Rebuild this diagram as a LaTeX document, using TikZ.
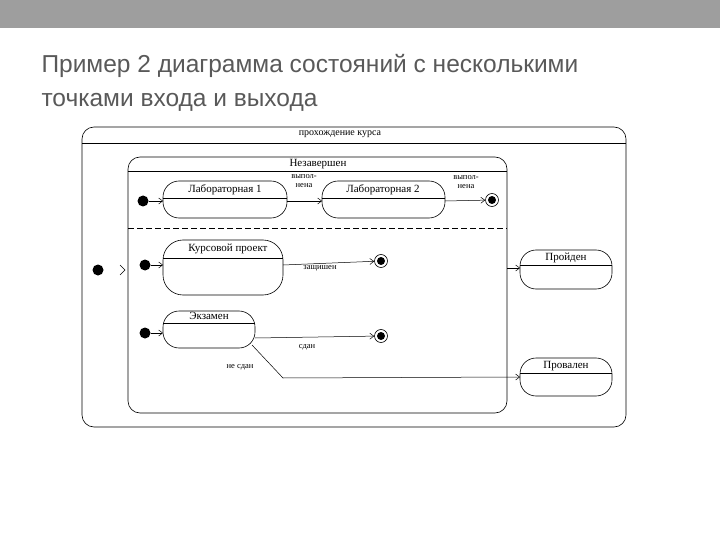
\documentclass[tikz,border=0pt]{standalone}
\usepackage{fontspec}
\setmainfont{Liberation Serif}
\newfontfamily\ttl{Liberation Sans}
\usetikzlibrary{arrows.meta}
\begin{document}
\begin{tikzpicture}[x=1pt,y=-1pt,
  st/.style={draw,rounded corners=16pt,line width=0.6pt,inner sep=0pt},
  sn/.style={font=\fontsize{11}{11}\selectfont,inner sep=1pt},
  tr/.style={-{Straight Barb[length=4pt,width=6pt]},line width=0.5pt},
  ini/.style={circle,fill=black,inner sep=0pt,minimum size=11pt},
  fin/.style={circle,draw,inner sep=1.3pt,line width=0.6pt,path picture={\fill (path picture bounding box.center) circle (4pt);},minimum size=13pt},
  lbl/.style={font=\fontsize{8.5}{8.5}\selectfont,inner sep=1pt,align=center}]
\useasboundingbox (0,0) rectangle (720,540);
\fill[black!38] (0,0) rectangle (720,28);
\node[anchor=west,text=black!65,font=\ttl\fontsize{24.5}{34}\selectfont,align=left] (title) at (38,83) {Пример 2 диаграмма состояний с несколькими\\точками входа и выхода};
% outer
\node[st,rounded corners=12pt,minimum width=544pt,minimum height=300pt] (outer) at (354,277) {};
\draw (82,143) -- (626,143);
\node[lbl,font=\fontsize{10}{10}\selectfont] (t1) at (340,134) {прохождение курса};
% inner
\node[st,rounded corners=12pt,minimum width=379pt,minimum height=256pt] (inner) at (317.5,285) {};
\draw (128,171) -- (507,171);
\node[sn] (t2) at (318,164) {Незавершен};
\draw[line width=0.7pt,dash pattern=on 6pt off 3pt] (128,228) -- (507,228);
% states
\node[st,minimum width=124pt,minimum height=37pt] (L1) at (225,199.5) {}; \draw (163,198) -- (287,198);
\node[sn] (l1) at (225,190) {Лабораторная 1};
\coordinate (l1w) at (163,201); \coordinate (l1e) at (287,201);
\node[st,minimum width=123pt,minimum height=37pt] (L2) at (383.5,199.5) {}; \draw (322,198) -- (445,198);
\node[sn] (l2) at (383,190) {Лабораторная 2};
\coordinate (l2w) at (322,201); \coordinate (l2e) at (445,201);
\node[st,rounded corners=20pt,minimum width=120pt,minimum height=55pt] (KP) at (223,267.5) {}; \draw (163,258) -- (283,258);
\node[sn] (kp) at (228,249) {Курсовой проект};
\coordinate (kpw) at (163,265); \coordinate (kpe) at (283,265);
\node[st,minimum width=92pt,minimum height=37pt] (EX) at (209,329.5) {}; \draw (163,323) -- (255,323);
\node[sn] (ex) at (209,316) {Экзамен};
\coordinate (exw) at (163,333); \coordinate (exe) at (255,338); \coordinate (exs) at (252,345);
\node[st,minimum width=92pt,minimum height=39pt] (PR) at (566,269.5) {}; \draw (520,265) -- (612,265);
\node[sn] (pr) at (566,258) {Пройден};
\coordinate (prw) at (520,268);
\node[st,minimum width=92pt,minimum height=38pt] (PV) at (566,377) {}; \draw (520,373) -- (612,373);
\node[sn] (pv) at (566,366) {Провален};
\coordinate (pvw) at (520,377);
% pseudostates
\node[ini] (i1) at (143,201) {};
\node[ini] (i2) at (145,265) {};
\node[ini] (i3) at (145,333) {};
\node[ini] (i0) at (98,270) {};
\node[fin] (f1) at (492,200) {};
\node[fin] (f2) at (381,261) {};
\node[fin] (f3) at (381,336) {};
\coordinate (ibe) at (507,268);
\coordinate (bend) at (283,378);
% transitions
\draw[tr] (i1) -- (l1w);
\draw[tr] (i2) -- (kpw);
\draw[tr] (i3) -- (exw);
\draw[line width=0.5pt] (i0) ++(22,-5) -- ++(5,5) -- ++(-5,5);
\draw[tr] (l1e) -- (l2w);
\draw[tr] (l2e) -- (f1);
\draw[tr] (kpe) -- (f2);
\draw[tr] (exe) -- (f3);
\draw[tr] (ibe) -- (prw);
\draw[tr] (exs) -- (bend) -- (pvw);
\node[lbl] (a1) at (304,181) {выпол-\\нена};
\node[lbl] (a2) at (466,182) {выпол-\\нена};
\node[lbl] (a3) at (320,268) {защишен};
\node[lbl] (a4) at (307,347) {сдан};
\node[lbl] (a5) at (240,367) {не сдан};
\end{tikzpicture}
\end{document}
